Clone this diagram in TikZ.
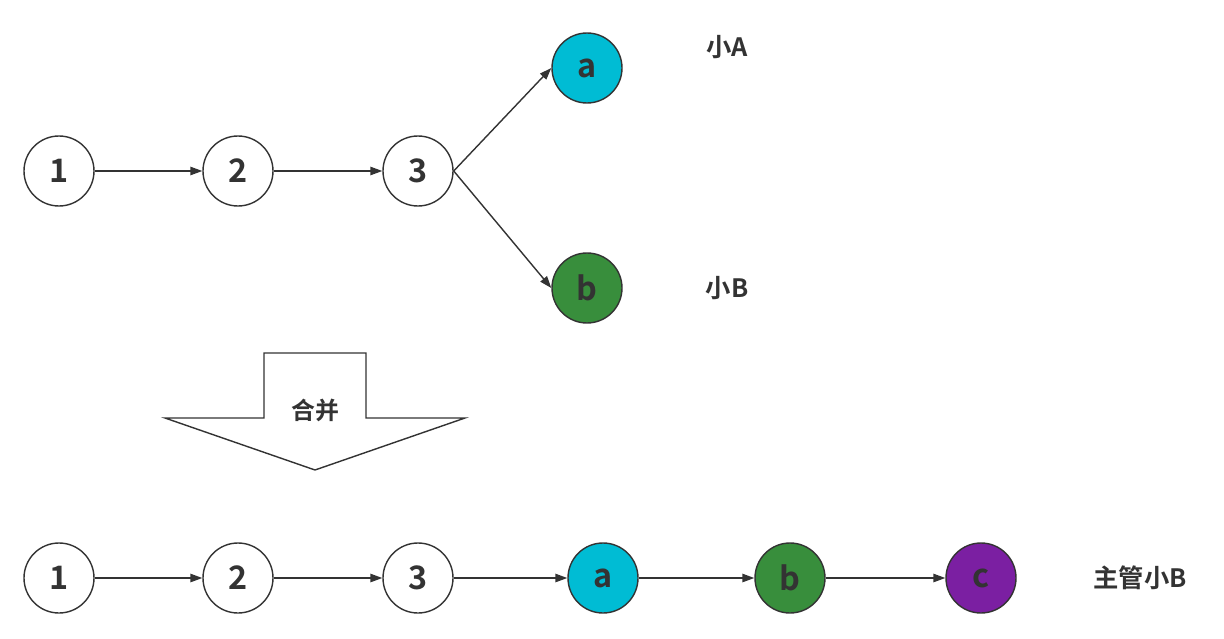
\documentclass[tikz,border=0pt]{standalone}
\usepackage{fontspec}
\setmainfont{Noto Sans CJK SC}[BoldFont={* Bold}]
\usetikzlibrary{arrows.meta}

\definecolor{linegray}{HTML}{333333}
\definecolor{nodecyan}{HTML}{00BCD4}
\definecolor{nodegreen}{HTML}{388E3C}
\definecolor{nodepurple}{HTML}{7B1FA2}

\tikzset{
    commit/.style={circle, draw=linegray, line width=1pt, minimum size=1.75cm,
        inner sep=0pt, text=linegray, font=\fontsize{23}{26}\selectfont\bfseries},
    tag/.style={text=linegray, font=\fontsize{18}{22}\selectfont\bfseries},
    link/.style={draw=linegray, line width=1pt, -{Triangle[length=8.5pt,width=6pt]}}
}

\begin{document}
\begin{tikzpicture}

    \useasboundingbox (0,0) rectangle (30.6,15.95);

    % arriba: dos ramas
    \node[commit] (t1) at (1.475,11.675) {1};
    \node[commit] (t2) at (5.95,11.675) {2};
    \node[commit] (t3) at (10.45,11.675) {3};
    \node[commit, fill=nodecyan] (ta) at (14.675,14.25) {a};
    \node[commit, fill=nodegreen] (tb) at (14.675,8.75) {b};

    \draw[link] (t1) -- (t2);
    \draw[link] (t2) -- (t3);
    \draw[link] (t3.east) -- (ta.west);
    \draw[link] (t3.east) -- (tb.west);

    \node[tag] (nameA) at (18.175,14.775) {小A};
    \node[tag] (nameB) at (18.175,8.75) {小B};

    % flecha central
    \draw[draw=linegray, line width=1pt, fill=white]
        (6.6,7.125) -- (9.15,7.125) -- (9.15,5.5) -- (11.625,5.5)
        -- (7.875,4.2) -- (4.125,5.5) -- (6.6,5.5) -- cycle;
    \node[tag, font=\fontsize{17}{20}\selectfont\bfseries] (merge) at (7.875,5.7) {合并};

    % abajo: una sola rama
    \node[commit] (b1) at (1.475,1.5) {1};
    \node[commit] (b2) at (5.95,1.5) {2};
    \node[commit] (b3) at (10.45,1.5) {3};
    \node[commit, fill=nodecyan] (ba) at (15.075,1.5) {a};
    \node[commit, fill=nodegreen] (bb) at (19.75,1.5) {b};
    \node[commit, fill=nodepurple] (bc) at (24.525,1.5) {c};

    \draw[link] (b1) -- (b2);
    \draw[link] (b2) -- (b3);
    \draw[link] (b3) -- (ba);
    \draw[link] (ba) -- (bb);
    \draw[link] (bb) -- (bc);

    \node[tag] (boss) at (28.5,1.5) {主管小B};

\end{tikzpicture}
\end{document}
